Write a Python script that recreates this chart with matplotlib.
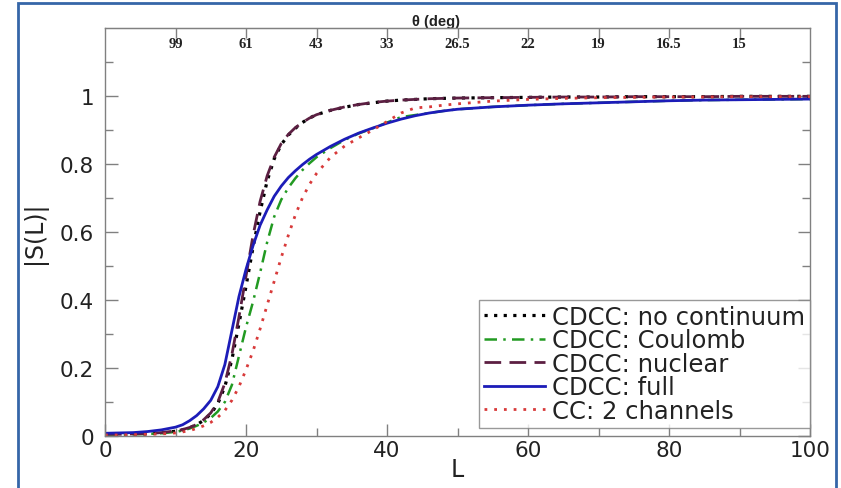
import matplotlib
matplotlib.use("Agg")
import matplotlib.pyplot as plt
from matplotlib.patches import Rectangle

# ---------------- data ----------------
L = [0, 2, 4, 6, 8, 10, 11, 12, 13, 14, 15, 16, 17, 18, 19, 20, 21, 22, 23, 24,
     25, 26, 27, 28, 29, 30, 32, 34, 36, 38, 40, 42, 44, 46, 48, 50, 55, 60, 65,
     70, 75, 80, 85, 90, 95, 100]

s_no_continuum = [0.004, 0.004, 0.005, 0.006, 0.009, 0.014, 0.018, 0.024, 0.033, 0.046,
                  0.065, 0.095, 0.145, 0.225, 0.33, 0.44, 0.555, 0.66, 0.75, 0.815,
                  0.857, 0.885, 0.905, 0.922, 0.935, 0.945, 0.958, 0.967, 0.975, 0.98,
                  0.985, 0.988, 0.99, 0.992, 0.993, 0.994, 0.995, 0.996, 0.997, 0.997,
                  0.998, 0.998, 0.998, 0.999, 0.999, 0.999]

s_coulomb = [0.004, 0.004, 0.005, 0.006, 0.008, 0.012, 0.016, 0.022, 0.03, 0.04,
             0.053, 0.072, 0.1, 0.15, 0.235, 0.32, 0.395, 0.48, 0.57, 0.645,
             0.695, 0.73, 0.758, 0.782, 0.802, 0.82, 0.847, 0.871, 0.89, 0.905,
             0.922, 0.938, 0.944, 0.95, 0.956, 0.961, 0.968, 0.973, 0.977, 0.98,
             0.983, 0.986, 0.988, 0.989, 0.99, 0.991]

s_nuclear = [0.005, 0.005, 0.006, 0.007, 0.01, 0.015, 0.019, 0.025, 0.034, 0.048,
             0.068, 0.1, 0.155, 0.24, 0.35, 0.47, 0.59, 0.69, 0.765, 0.82,
             0.86, 0.887, 0.907, 0.922, 0.935, 0.945, 0.958, 0.968, 0.975, 0.981,
             0.985, 0.988, 0.99, 0.992, 0.993, 0.994, 0.995, 0.996, 0.997, 0.997,
             0.998, 0.998, 0.998, 0.999, 0.999, 0.999]

s_full = [0.008, 0.009, 0.01, 0.013, 0.018, 0.026, 0.033, 0.045, 0.06, 0.08,
          0.105, 0.145, 0.21, 0.31, 0.41, 0.49, 0.56, 0.62, 0.665, 0.705,
          0.735, 0.76, 0.78, 0.798, 0.814, 0.828, 0.852, 0.873, 0.891, 0.906,
          0.92, 0.932, 0.942, 0.95, 0.956, 0.961, 0.968, 0.973, 0.977, 0.98,
          0.983, 0.986, 0.988, 0.989, 0.99, 0.991]

s_cc2 = [0.003, 0.003, 0.004, 0.005, 0.006, 0.009, 0.012, 0.016, 0.022, 0.03,
         0.04, 0.055, 0.075, 0.105, 0.145, 0.195, 0.25, 0.315, 0.385, 0.455,
         0.525, 0.59, 0.65, 0.7, 0.74, 0.772, 0.82, 0.853, 0.877, 0.9,
         0.925, 0.95, 0.965, 0.968, 0.973, 0.977, 0.985, 0.99, 0.993, 0.995,
         0.996, 0.997, 0.997, 0.998, 0.998, 0.998]

labels = ["CDCC: no continuum", "CDCC: Coulomb", "CDCC: nuclear",
          "CDCC: full", "CC: 2 channels"]

theta_tick_L = [10, 20, 30, 40, 50, 60, 70, 80, 90]
theta_labels = ["99", "61", "43", "33", "26.5", "22", "19", "16.5", "15"]

# ---------------- figure ----------------
W, H = 841, 489
fig = plt.figure(figsize=(W / 100, H / 100), dpi=100)
fig.patch.set_facecolor("white")

# outer blue frame
fig.patches.append(Rectangle((18 / W, -0.02), (836 - 18) / W, 1.02 - 4 / H,
                             transform=fig.transFigure, fill=False,
                             edgecolor="#3566a8", linewidth=2.0))

ax = fig.add_axes([105 / W, 1 - 437 / H, (810 - 105) / W, (437 - 29) / H])

sans = ["DejaVu Sans"]
serif = ["Liberation Serif", "DejaVu Serif"]

ax.plot(L, s_no_continuum, color="black", lw=2.3, ls=(0, (1, 2)), label=labels[0])
ax.plot(L, s_coulomb, color="#229a22", lw=1.8, ls=(0, (5, 2.5, 1, 2.5)), label=labels[1])
ax.plot(L, s_nuclear, color="#5c1f42", lw=2.0, ls=(0, (6, 3)), label=labels[2])
ax.plot(L, s_full, color="#1c1cb8", lw=2.0, ls="-", label=labels[3])
ax.plot(L, s_cc2, color="#d83a3a", lw=2.0, ls=(0, (1, 2.5)), label=labels[4])

ax.set_xlim(0, 100)
ax.set_ylim(0, 1.2)
ax.set_xticks([0, 20, 40, 60, 80, 100])
ax.set_xticks([10, 30, 50, 70, 90], minor=True)
ax.set_yticks([0, 0.2, 0.4, 0.6, 0.8, 1.0])
ax.set_yticklabels(["0", "0.2", "0.4", "0.6", "0.8", "1"])
ax.set_yticks([0.1, 0.3, 0.5, 0.7, 0.9, 1.1], minor=True)

grey = "#808080"
for sp in ax.spines.values():
    sp.set_color(grey)
    sp.set_linewidth(1.0)

ax.tick_params(axis="both", which="both", direction="in", color=grey,
               labelcolor="#222222", labelsize=15.5, width=1.0)
ax.tick_params(axis="y", which="both", right=True, pad=8)
ax.tick_params(axis="x", which="both", top=False, pad=3)
ax.tick_params(which="major", length=9)
ax.tick_params(which="minor", length=6)
for t in ax.get_xticklabels() + ax.get_yticklabels():
    t.set_family(sans)

ax.set_xlabel("L", family=sans, fontsize=17, labelpad=-2, color="#222222")
ax.set_ylabel("|S(L)|", family=sans, fontsize=17, labelpad=9, color="#222222")

# top theta axis
top = ax.secondary_xaxis("top")
top.set_xticks(theta_tick_L)
top.set_xticklabels(theta_labels)
top.tick_params(direction="in", length=7, color=grey, width=1.0,
                labelsize=10.5, pad=-16, labelcolor="#222222")
for t in top.get_xticklabels():
    t.set_family(serif)
    t.set_fontweight("bold")
top.spines["top"].set_color(grey)
top.set_xlabel("θ (deg)", family=["Liberation Sans", "DejaVu Sans"], fontsize=10.5,
               fontweight="bold", labelpad=2, color="#222222")
top.xaxis.label.set_x(0.47)

leg = ax.legend(loc="lower right", bbox_to_anchor=(1.0, 0.02), borderaxespad=0,
                prop={"family": sans, "size": 17.5}, frameon=True, fancybox=False,
                edgecolor=grey, handlelength=2.5, handletextpad=0.3,
                labelspacing=-0.02, borderpad=0.2)
leg.get_frame().set_linewidth(1.0)
for t in leg.get_texts():
    t.set_color("#222222")

fig.savefig("out.png", dpi=100, facecolor="white")
